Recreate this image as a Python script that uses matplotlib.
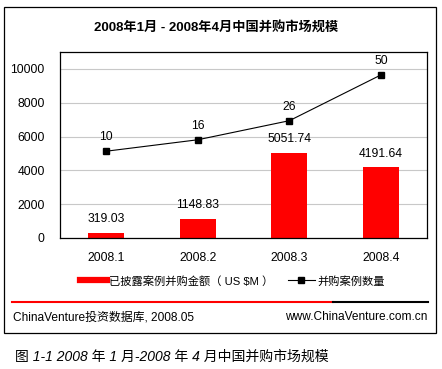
import matplotlib
matplotlib.use('Agg')
import matplotlib.pyplot as plt
from matplotlib.lines import Line2D
from matplotlib.patches import Rectangle

plt.rcParams['font.family'] = ['Liberation Sans', 'Noto Sans CJK SC']

months = ['2008.1', '2008.2', '2008.3', '2008.4']
amounts = [319.03, 1148.83, 5051.74, 4191.64]   # 已披露案例并购金额 (US $M)
deals = [10, 16, 26, 50]                        # 并购案例数量
yticks = [0, 2000, 4000, 6000, 8000, 10000]

W, H = 442, 369
fig = plt.figure(figsize=(W / 100, H / 100), dpi=100)

def fx(px):
    return px / W

def fy(py):
    return 1 - py / H

# outer frame
fig.patches.append(Rectangle((fx(4), fy(333)), fx(432), 326 / H, transform=fig.transFigure,
                             fill=False, edgecolor='black', linewidth=0.9))

fig.text(fx(216), fy(28), '2008年1月 - 2008年4月中国并购市场规模', ha='center', va='center',
         fontsize=9.5, fontweight='bold')

ax = fig.add_axes([fx(60), fy(238), fx(367), 186 / H])
x = list(range(len(months)))
bars = ax.bar(x, amounts, width=0.39, color='#ff0000', zorder=2)
ax.set_xlim(-0.5, 3.5)
ax.set_ylim(0, 11000)
ax.set_yticks(yticks)
ax.set_xticks(x)
ax.set_xticklabels(months)
ax.tick_params(axis='both', length=0, labelsize=8.7)
ax.tick_params(axis='y', pad=11)
ax.tick_params(axis='x', pad=10)
ax.grid(axis='y', color='#c8c8c8', linewidth=0.8)
ax.set_axisbelow(True)
for sp in ax.spines.values():
    sp.set_linewidth(0.9)
for xi, v in zip(x, amounts):
    ax.annotate(f'{v:.2f}', (xi, v), xytext=(0, 9.6), textcoords='offset points',
                ha='center', va='center', fontsize=8.7)

ax2 = ax.twinx()
ax2.set_ylim(-4000 / 113, 7000 / 113)
ax2.axis('off')
ax2.plot(x, deals, color='black', linewidth=0.8, marker='s', markersize=4)
for xi, v in zip(x, deals):
    ax2.annotate(str(v), (xi, v), xytext=(0, 10), textcoords='offset points',
                 ha='center', va='center', fontsize=8.7)

handles = [Line2D([], [], color='#ff0000', linewidth=4.5),
           Line2D([], [], color='black', linewidth=0.8, marker='s', markersize=4)]
fig.legend(handles, ['已披露案例并购金额（ US $M ）', '并购案例数量'], ncol=2, frameon=False,
           loc='center', bbox_to_anchor=(fx(232), fy(281)), fontsize=8.1,
           handlelength=2.4, handletextpad=0.2, columnspacing=1.3)

fig.add_artist(Line2D([fx(12), fx(333)], [fy(302), fy(302)], color='#ff0000', linewidth=1.5))
fig.add_artist(Line2D([fx(333), fx(428)], [fy(302), fy(302)], color='black', linewidth=1.5))

fig.text(fx(13), fy(317), 'ChinaVenture投资数据库, 2008.05', ha='left', va='center', fontsize=8.6)
fig.text(fx(427), fy(317), 'www.ChinaVenture.com.cn', ha='right', va='center', fontsize=8.6)

fig.text(fx(15), fy(357), '图 1-1 2008 年 1 月-2008 年 4 月中国并购市场规模', ha='left', va='center',
         fontsize=10, style='italic')

fig.savefig('out.png', dpi=100)
